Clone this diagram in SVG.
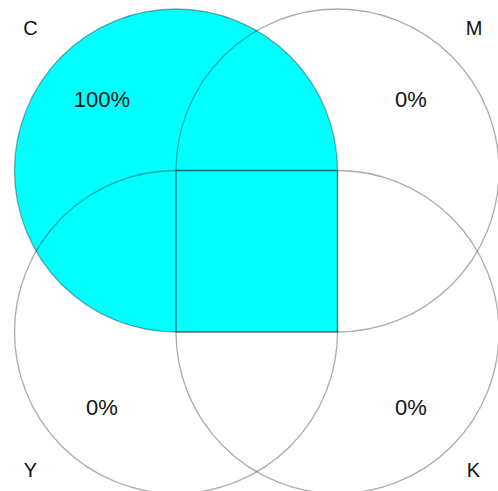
<svg xmlns="http://www.w3.org/2000/svg" width="498" height="491" viewBox="0 0 498 491">
<style>
.s{stroke:#000;stroke-opacity:0.33;stroke-width:1.3;}
.lbl{font-family:"Liberation Sans",Arial,sans-serif;font-size:20px;fill:#111;text-anchor:middle;}
.pct{font-family:"Liberation Sans",Arial,sans-serif;font-size:22px;fill:#111;text-anchor:middle;}
</style>
<rect width="498" height="491" fill="#fff"/>
<g id="C">
<path class="s" fill="#00ffff" d="M 337.5 170.5 A 161.5 161.5 0 1 0 176 332 L 337.5 332 Z"/>
<text class="lbl" x="30.5" y="35">C</text>
<text class="pct" x="102" y="106.5">100%</text>
</g>
<g id="M">
<path class="s" fill="none" d="M 176 170.5 A 161.5 161.5 0 1 1 337.5 332 L 176 332 Z"/>
<text class="lbl" x="474" y="35">M</text>
<text class="pct" x="411" y="106.5">0%</text>
</g>
<g id="Y">
<path class="s" fill="none" d="M 337.5 332 A 161.5 161.5 0 1 1 176 170.5 L 337.5 170.5 Z"/>
<text class="lbl" x="30.5" y="476.5">Y</text>
<text class="pct" x="102" y="415">0%</text>
</g>
<g id="K">
<path class="s" fill="none" d="M 337.5 170.5 A 161.5 161.5 0 1 1 176 332 L 176 170.5 Z"/>
<text class="lbl" x="473.5" y="476.5">K</text>
<text class="pct" x="411" y="415">0%</text>
</g>
<g id="connectors"></g>
</svg>
